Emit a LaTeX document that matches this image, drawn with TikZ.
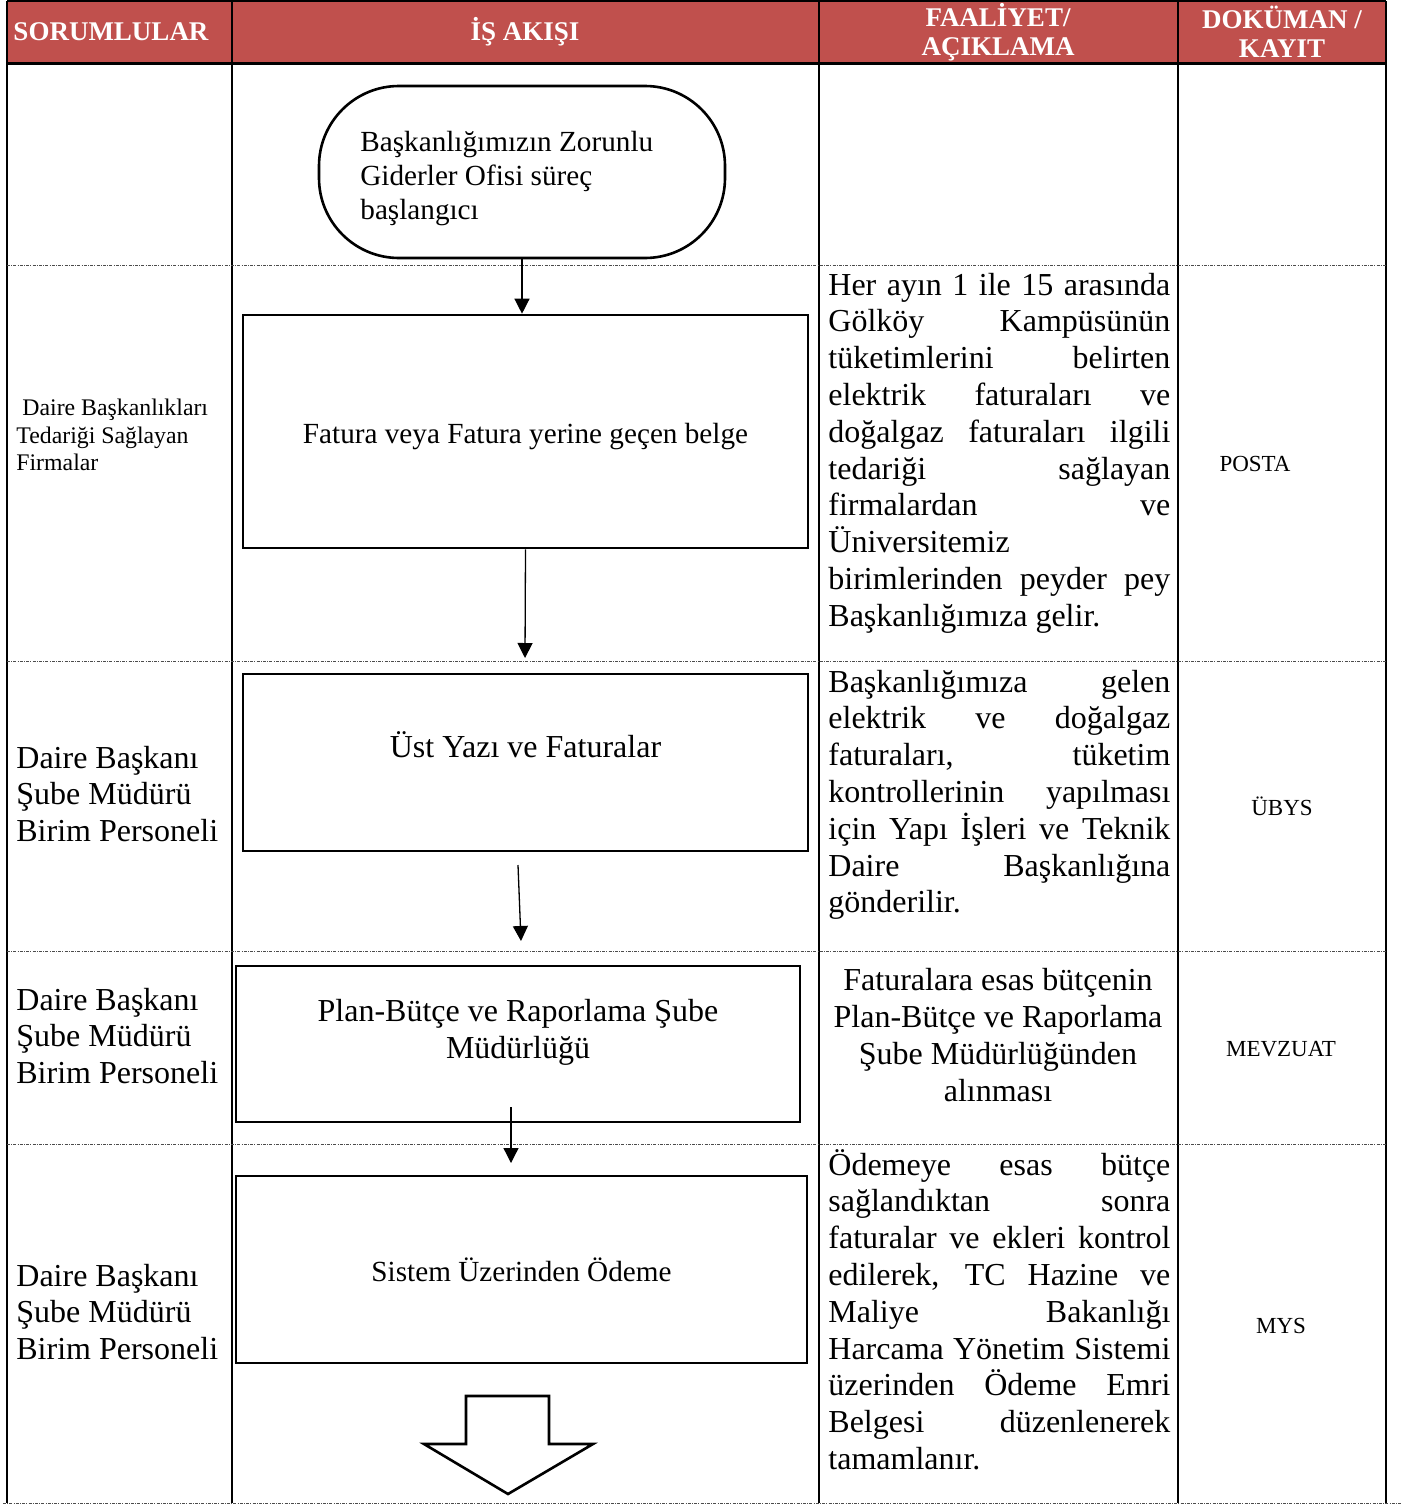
\documentclass[tikz,border=0pt]{standalone}
\usepackage{fontspec}
\setmainfont{Liberation Serif}
\usetikzlibrary{positioning,arrows.meta}
\definecolor{basrenk}{HTML}{C0504D}

\begin{document}
\begin{tikzpicture}[x=0.5pt, y=-0.5pt,
                    cizgi/.style={line width=1pt},
                    ayrac/.style={line width=0.5pt, gray!60!black, dash pattern=on 1.5pt off 0.6pt on 0.5pt off 0.6pt},
                    baslik/.style={text=white, font=\fontsize{13.5}{14.5}\selectfont\bfseries, align=center, inner sep=0pt},
                    kutu/.style={draw, line width=1.3pt, inner sep=0pt},
                    ok/.style={line width=0.65pt, -{Triangle[length=7.5pt, width=7.5pt]}},
                    orta/.style={font=\fontsize{14.6}{17}\selectfont, inner sep=0pt},
                    buyuk/.style={font=\fontsize{16}{18.4}\selectfont, inner sep=0pt},
                    metin/.style={font={\fontsize{16}{18.4}\selectfont\tolerance=10000\hyphenpenalty=10000},
                                  text width=171pt, align=justify, inner sep=0pt, anchor=base west},
                    sol/.style={anchor=west, align=left, inner sep=0pt},
                    sag/.style={font=\fontsize{11.5}{13}\selectfont, inner sep=0pt}]
  \useasboundingbox (0,0) rectangle (1404,1505);
  % header
  \fill[basrenk] (7,1) rectangle (1386,63);
  \draw[cizgi] (7,1) -- (1386,1);
  \draw[line width=1.5pt] (7,63) -- (1386,63);
  \foreach \x in {7,232,819,1178} \draw[cizgi] (\x,1) -- (\x,1503);
  \draw[line width=1.3pt] (1386,1) -- (1386,1503);
  \foreach \y in {265,661,951,1144} \draw[ayrac] (7,\y) -- (1386,\y);
  \draw[ayrac] (3,1503) -- (1401,1503);
  \node[baslik] (hsor) at (111,32) {SORUMLULAR};
  \node[baslik] (hakis) at (525,32) {İŞ AKIŞI};
  \node[baslik] (hfaal) at (998,32) {FAALİYET/\\AÇIKLAMA};
  \node[baslik] (hdok) at (1282,32) {DOKÜMAN /\\KAYIT};

  % flow
  \node[kutu, rounded corners=40pt, minimum width=203pt, minimum height=86pt] (bas) at (522,172) {};
  \node[orta, align=left, anchor=base west] (bastxt) at (360,219) {Başkanlığımızın Zorunlu\\Giderler Ofisi süreç\\başlangıcı};
  \node[kutu, minimum width=282.5pt, minimum height=116.5pt] (b1) at (525.5,431.5) {};
  \node[orta, anchor=base] (b1txt) at (525.5,443) {Fatura veya Fatura yerine geçen belge};
  \node[kutu, minimum width=282.5pt, minimum height=88.5pt] (b2) at (525.5,762.5) {};
  \node[buyuk, anchor=base] (b2txt) at (525.5,757) {Üst Yazı ve Faturalar};
  \node[kutu, minimum width=282pt, minimum height=78pt] (b3) at (518,1044) {};
  \node[buyuk, align=center, anchor=base] (b3txt) at (518,1058) {Plan-Bütçe ve Raporlama Şube\\Müdürlüğü};
  \node[kutu, minimum width=285.5pt, minimum height=93.5pt] (b4) at (521.5,1269.5) {};
  \node[orta, anchor=base] (b4txt) at (521.5,1281) {Sistem Üzerinden Ödeme};

  \coordinate (o2son) at (525,658);
  \coordinate (o3bas) at (518,865);
  \coordinate (o3son) at (521,941);
  \coordinate (o4bas) at (511,1107);
  \coordinate (o4son) at (511,1163);
  \draw[ok] (bas.south) -- (bas.south |- b1.north);
  \draw[ok] (b1.south) -- (o2son);
  \draw[ok] (o3bas) -- (o3son);
  \draw[ok] (o4bas) -- (o4son);
  \draw[line width=1.3pt, line join=miter] (466,1396) -- (549,1396) -- (549,1444) -- (593,1444)
        -- (508,1494) -- (424,1444) -- (466,1444) -- cycle;

  % sorumlular
  \node[sol, font=\fontsize{11.9}{13.75}\selectfont] (s1) at (16,435) {\hspace*{3pt}Daire Başkanlıkları\\Tedariği Sağlayan\\Firmalar};
  \node[sol, buyuk] (s2) at (16,794) {Daire Başkanı\\Şube Müdürü\\Birim Personeli};
  \node[sol, buyuk] (s3) at (16,1036) {Daire Başkanı\\Şube Müdürü\\Birim Personeli};
  \node[sol, buyuk] (s4) at (16,1312) {Daire Başkanı\\Şube Müdürü\\Birim Personeli};

  % faaliyet / aciklama
  \node[metin] (d1) at (828,295) {Her ayın 1 ile 15 arasında\linebreak Gölköy Kampüsünün\linebreak
    tüketimlerini belirten\linebreak elektrik faturaları ve\linebreak doğalgaz faturaları ilgili\linebreak
    tedariği sağlayan\linebreak firmalardan ve\linebreak Üniversitemiz\linebreak
    birimlerinden peyder pey\linebreak Başkanlığımıza gelir.};
  \node[metin] (d2) at (828,692) {Başkanlığımıza gelen\linebreak elektrik ve doğalgaz\linebreak
    faturaları, tüketim\linebreak kontrollerinin yapılması\linebreak için Yapı İşleri ve Teknik\linebreak
    Daire Başkanlığına\linebreak gönderilir.};
  \node[buyuk, align=center, anchor=base] (d3) at (998,1101) {Faturalara esas bütçenin\\Plan-Bütçe ve Raporlama\\Şube Müdürlüğünden\\alınması};
  \node[metin] (d4) at (828,1175) {Ödemeye esas bütçe\linebreak sağlandıktan sonra\linebreak
    faturalar ve ekleri kontrol\linebreak edilerek, TC Hazine ve\linebreak Maliye Bakanlığı\linebreak
    Harcama Yönetim Sistemi\linebreak üzerinden Ödeme Emri\linebreak Belgesi düzenlenerek\linebreak tamamlanır.};

  % dokuman / kayit
  \node[sag] (k1) at (1255,464) {POSTA};
  \node[sag] (k2) at (1282,806) {ÜBYS};
  \node[sag] (k3) at (1281,1049) {MEVZUAT};
  \node[sag] (k4) at (1281,1326) {MYS};
\end{tikzpicture}
\end{document}
